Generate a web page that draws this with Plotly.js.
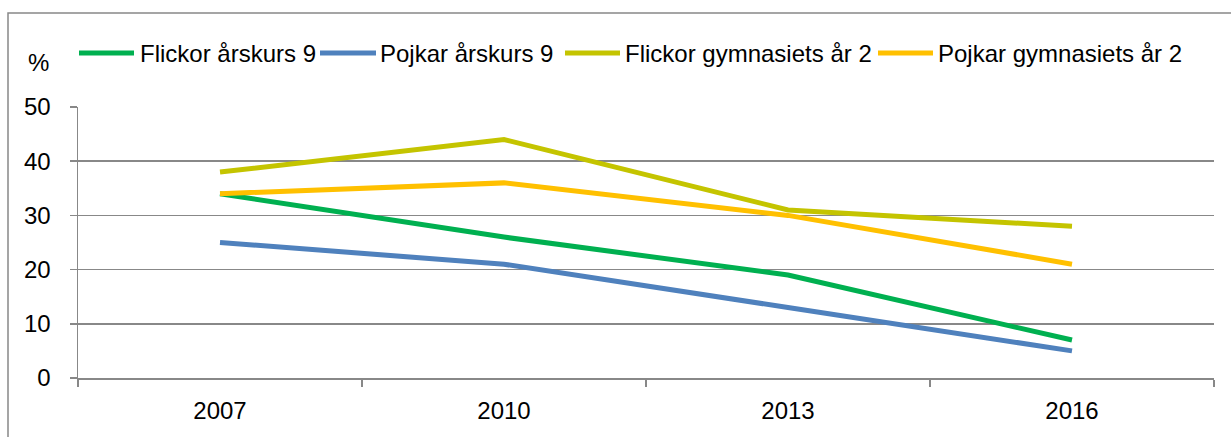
<!DOCTYPE html>
<html>
<head>
<meta charset="utf-8">
<script src="https://cdn.plot.ly/plotly-3.0.1.min.js"></script>
<style>
  html, body { margin: 0; padding: 0; background: #ffffff; }
  #chart { width: 1231px; height: 437px; }
</style>
</head>
<body>
<div id="chart"></div>
<script>
var years = ["2007", "2010", "2013", "2016"];
var flickorAk9 = [34, 26, 19, 7];
var pojkarAk9 = [25, 21, 13, 5];
var flickorGy2 = [38, 44, 31, 28];
var pojkarGy2 = [34, 36, 30, 21];
var seriesNames = ["Flickor årskurs 9", "Pojkar årskurs 9", "Flickor gymnasiets år 2", "Pojkar gymnasiets år 2"];
var seriesColors = ["#00B050", "#4F81BD", "#C4C400", "#FFC000"];
var yTicks = [0, 10, 20, 30, 40, 50];

var W = 1231, H = 437;
var M = { l: 78, r: 17, t: 107, b: 59 };
var PW = W - M.l - M.r, PH = H - M.t - M.b;
function px(x) { return (x - M.l) / PW; }
function py(y) { return (H - M.b - y) / PH; }

var values = [flickorAk9, pojkarAk9, flickorGy2, pojkarGy2];
var traces = values.map(function (v, i) {
  return {
    type: "scatter",
    mode: "lines",
    x: years,
    y: v,
    name: seriesNames[i],
    showlegend: false,
    line: { color: seriesColors[i], width: 5 }
  };
});

var font = { family: "Liberation Sans, Arial, sans-serif", size: 24, color: "#000000" };

// manual legend (Excel style: long line sample followed by text)
var legendSymbols = [[79, 134], [320, 376], [565, 620], [878, 933]];
var legendTextX = [138, 378, 623, 936];
var legendY = 53;

var shapes = [{
  type: "rect",
  xref: "paper", yref: "paper",
  x0: px(8), x1: px(1240),
  y0: py(446), y1: py(13),
  line: { color: "#888888", width: 1.5 },
  fillcolor: "rgba(0,0,0,0)",
  layer: "below"
}];
var annotations = [{
  text: "%",
  xref: "paper", yref: "paper",
  x: px(38), y: py(63),
  xanchor: "center", yanchor: "middle",
  showarrow: false,
  font: font
}];
seriesNames.forEach(function (name, i) {
  shapes.push({
    type: "line",
    xref: "paper", yref: "paper",
    x0: px(legendSymbols[i][0]), x1: px(legendSymbols[i][1]),
    y0: py(legendY), y1: py(legendY),
    line: { color: seriesColors[i], width: 5 }
  });
  annotations.push({
    text: name,
    xref: "paper", yref: "paper",
    x: px(legendTextX[i]), y: py(legendY + 1),
    xanchor: "left", yanchor: "middle",
    showarrow: false,
    font: font
  });
});

var layout = {
  width: W,
  height: H,
  margin: M,
  paper_bgcolor: "#ffffff",
  plot_bgcolor: "#ffffff",
  font: font,
  showlegend: false,
  xaxis: {
    type: "category",
    range: [-0.5, 3.5],
    tickson: "boundaries",
    ticks: "outside",
    ticklen: 7,
    tickwidth: 1.5,
    tickcolor: "#888888",
    showline: true,
    linecolor: "#888888",
    linewidth: 1.5,
    showgrid: false,
    zeroline: false,
    ticklabelstandoff: 11,
    tickfont: font,
    fixedrange: true
  },
  yaxis: {
    range: [0, 50],
    tickvals: yTicks,
    ticktext: yTicks.map(String),
    ticks: "outside",
    ticklen: 7,
    tickwidth: 1.5,
    tickcolor: "#888888",
    showline: true,
    linecolor: "#888888",
    linewidth: 1.5,
    showgrid: true,
    gridcolor: "#888888",
    gridwidth: 1.5,
    zeroline: false,
    ticklabelstandoff: 14,
    tickfont: font,
    fixedrange: true
  },
  annotations: annotations,
  shapes: shapes
};

Plotly.newPlot("chart", traces, layout, { displayModeBar: false, staticPlot: true });
</script>
</body>
</html>
